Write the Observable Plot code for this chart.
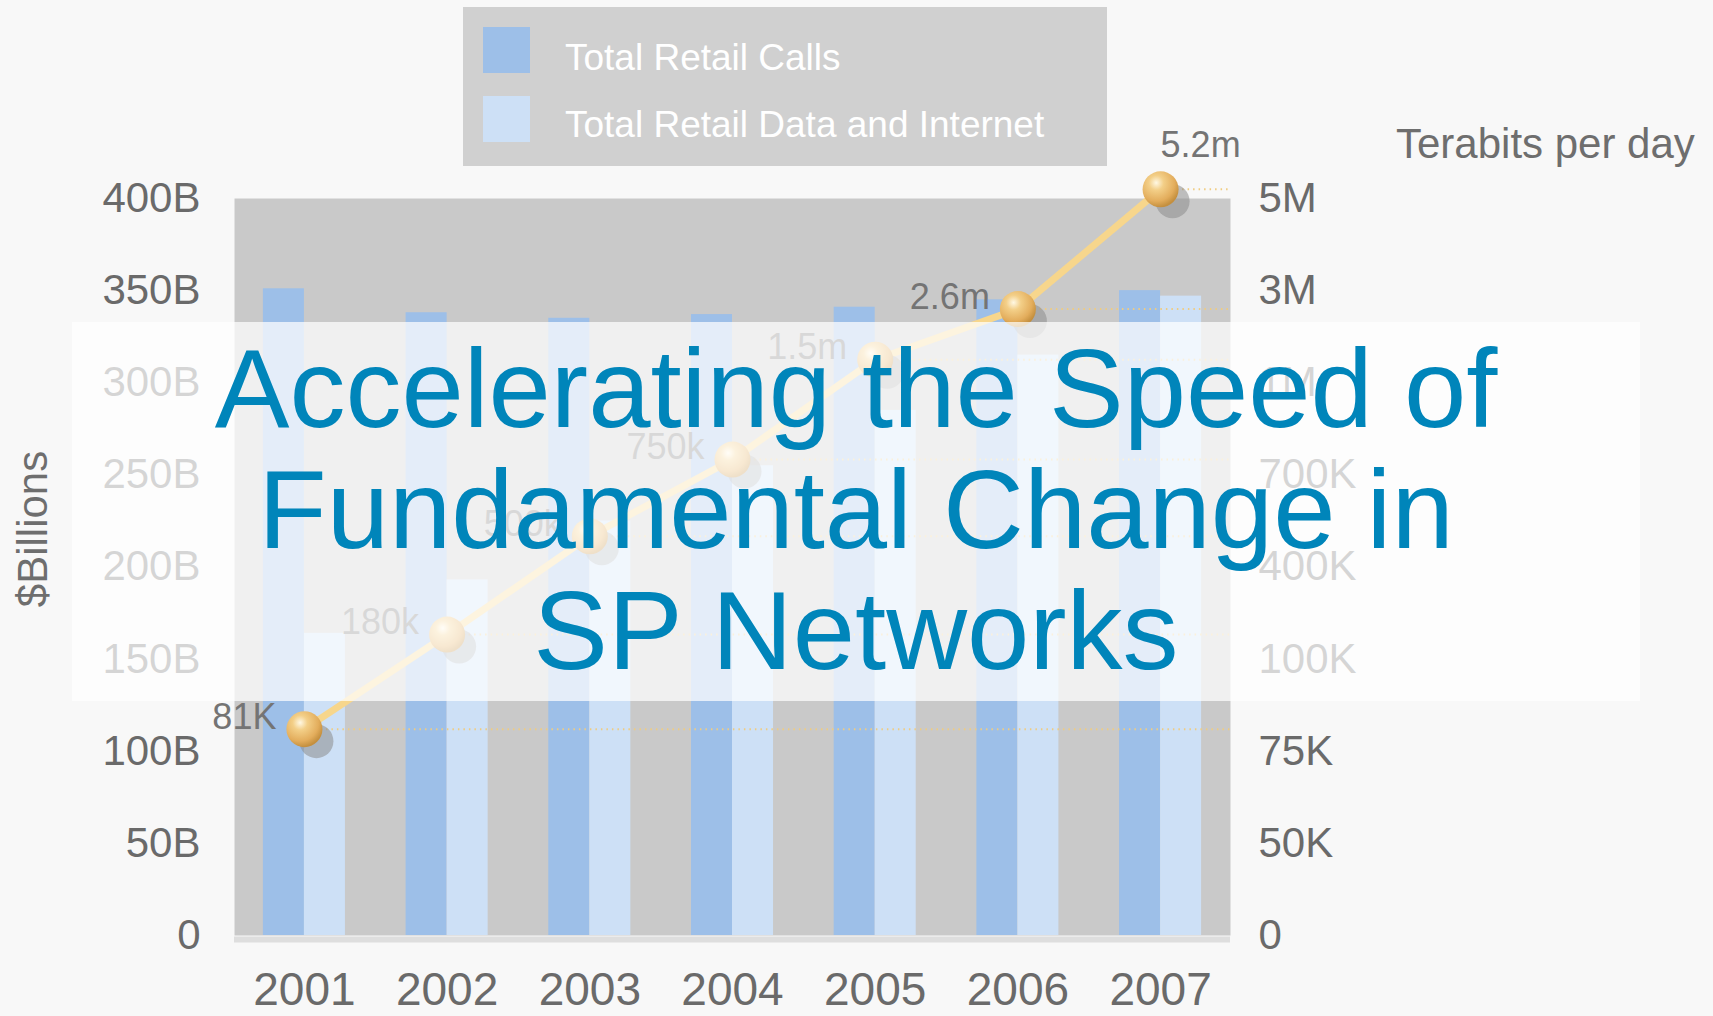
<!DOCTYPE html>
<html>
<head>
<meta charset="utf-8">
<script src="https://cdn.jsdelivr.net/npm/d3@7"></script>
<script src="https://cdn.jsdelivr.net/npm/@observablehq/plot@0.6"></script>
<style>
  html, body { margin: 0; padding: 0; background: #f8f8f8; }
  #slide { position: relative; width: 1713px; height: 1016px; overflow: hidden; background: #f8f8f8;
           font-family: "Liberation Sans", Arial, Helvetica, sans-serif; }
  #chart { position: absolute; left: 0; top: 0; }
  #legend { position: absolute; left: 463px; top: 7px; width: 644px; height: 159px; background: #d0d0d0; }
  .sw { position: absolute; left: 20px; width: 47px; height: 46px; }
  .lg-text { position: absolute; left: 102px; color: #ffffff; font-size: 37px; line-height: 37px; white-space: nowrap; }
  #band { position: absolute; left: 72px; top: 322px; width: 1568px; height: 379px; background: rgba(255,255,255,0.72); }
  #title { position: absolute; left: 0; top: 328px; width: 1712px; text-align: center; color: #0085ba;
           font-size: 112px; line-height: 121px; white-space: nowrap; }
  #ylabel-left { position: absolute; left: 33px; top: 529px; transform: translate(-50%, -50%) rotate(-90deg);
                 font-size: 42px; color: #6e6e6e; white-space: nowrap; }
  #ylabel-right { position: absolute; left: 1396px; top: 123px; font-size: 42px; line-height: 42px; color: #6e6e6e; white-space: nowrap; }
</style>
</head>
<body>
<div id="slide">
  <div id="chart"></div>
  <div id="legend"></div>
  <div id="ylabel-left"></div>
  <div id="ylabel-right"></div>
  <div id="band"></div>
  <div id="title"></div>
</div>
<script>
// ---------- data ----------
const years = [2001, 2002, 2003, 2004, 2005, 2006, 2007];
const seriesNames = ["Total Retail Calls", "Total Retail Data and Internet"];
const seriesColors = ["#9dbfe8", "#cde0f6"];
const callsBillions = [351, 338, 335, 337, 341, 345, 350];
const dataBillions = [164, 193, 225, 255, 285, 315, 347];
const trafficTb = [81e3, 180e3, 500e3, 750e3, 1.5e6, 2.6e6, 5.2e6];
const trafficLabels = ["81K", "180k", "500k", "750k", "1.5m", "2.6m", "5.2m"];
const leftTicks = [0, 50, 100, 150, 200, 250, 300, 350, 400];
const leftTickLabels = ["0", "50B", "100B", "150B", "200B", "250B", "300B", "350B", "400B"];
const rightTickValues = [0, 50e3, 75e3, 100e3, 400e3, 700e3, 1e6, 3e6, 5e6];
const rightTickLabels = ["0", "50K", "75K", "100K", "400K", "700K", "1M", "3M", "5M"];
const leftAxisTitle = "$Billions";
const rightAxisTitle = "Terabits per day";
const titleLines = ["Accelerating the Speed of", "Fundamental Change in", "SP Networks"];

// ---------- derived tables ----------
const half = 0.2875; // half of a year-group width, in year units
const bars = [];
years.forEach((y, i) => {
  bars.push({year: y, series: seriesNames[0], value: callsBillions[i], x1: y - half, x2: y});
  bars.push({year: y, series: seriesNames[1], value: dataBillions[i], x1: y, x2: y + half});
});
// secondary (non-linear, piecewise) axis mapped onto the primary y units
const secondary = d3.scaleLinear().domain(rightTickValues).range(leftTicks);
const traffic = years.map((y, i) => ({year: y, tb: trafficTb[i], label: trafficLabels[i], yv: secondary(trafficTb[i])}));

const font = '"Liberation Sans", Arial, Helvetica, sans-serif';
const axisColor = "#6a6a6a";

const plot = Plot.plot({
  width: 1713,
  height: 1016,
  marginLeft: 234,
  marginRight: 483,
  marginTop: 198,
  marginBottom: 81,
  style: {fontFamily: font, background: "#f8f8f8", overflow: "visible"},
  x: {domain: [2000.51, 2007.49]},
  y: {domain: [0, 400]},
  color: {domain: seriesNames, range: seriesColors},
  marks: [
    Plot.frame({fill: "#c9c9c9", stroke: "none"}),
    Plot.ruleY([0], {stroke: "#dedede", strokeWidth: 6, dy: 4}),
    Plot.rectY(bars, {x1: "x1", x2: "x2", y: "value", fill: "series"}),
    Plot.ruleY(traffic, {y: "yv", x1: "year", x2: 2007.49, stroke: "#f0cc80", strokeWidth: 2, strokeDasharray: "1.5 4"}),
    Plot.line(traffic, {x: "year", y: "yv", stroke: "#f7d68c", strokeWidth: 7}),
    Plot.dot(traffic, {x: "year", y: "yv", r: 17, fill: "#8c8c8c", fillOpacity: 0.55, dx: 12, dy: 12}),
    Plot.dot(traffic, {x: "year", y: "yv", r: 18, fill: "url(#ballGrad)"}),
    Plot.text(traffic.slice(0, 6), {x: "year", y: "yv", text: "label", textAnchor: "end", dx: -28, dy: -12,
      fontSize: 36, fill: "#747474"}),
    Plot.text(traffic.slice(6), {x: "year", y: "yv", text: "label", textAnchor: "start", dx: 0, dy: -44,
      fontSize: 36, fill: "#747474"}),
    Plot.axisY({anchor: "left", ticks: leftTicks, tickFormat: d => leftTickLabels[leftTicks.indexOf(d)],
      tickSize: 0, tickPadding: 34, fontSize: 42, color: axisColor, label: null}),
    Plot.axisY({anchor: "right", ticks: leftTicks, tickFormat: d => rightTickLabels[leftTicks.indexOf(d)],
      tickSize: 0, tickPadding: 28, fontSize: 42, color: axisColor, label: null}),
    Plot.axisX({ticks: years, tickFormat: d => String(d), tickSize: 0, tickPadding: 37, fontSize: 46,
      color: axisColor, label: null})
  ]
});

d3.select(plot).insert("defs", ":first-child").html(
  '<radialGradient id="ballGrad" cx="38%" cy="32%" r="68%">' +
  '<stop offset="0" stop-color="#fff8e4"/>' +
  '<stop offset="0.3" stop-color="#f3cf88"/>' +
  '<stop offset="0.75" stop-color="#e3ad5c"/>' +
  '<stop offset="1" stop-color="#c48f3e"/>' +
  '</radialGradient>'
);
document.getElementById("chart").appendChild(plot);

// legend
const legend = document.getElementById("legend");
const swatchTops = [20, 89];
const textTops = [32, 99];
seriesNames.forEach((name, i) => {
  const sw = document.createElement("div");
  sw.className = "sw";
  sw.style.top = swatchTops[i] + "px";
  sw.style.background = seriesColors[i];
  legend.appendChild(sw);
  const t = document.createElement("div");
  t.className = "lg-text";
  t.style.top = textTops[i] + "px";
  t.textContent = name;
  legend.appendChild(t);
});

document.getElementById("ylabel-left").textContent = leftAxisTitle;
document.getElementById("ylabel-right").textContent = rightAxisTitle;
document.getElementById("title").innerHTML = titleLines.map(s => s.replace(/&/g, "&amp;")).join("<br>");
</script>
</body>
</html>
